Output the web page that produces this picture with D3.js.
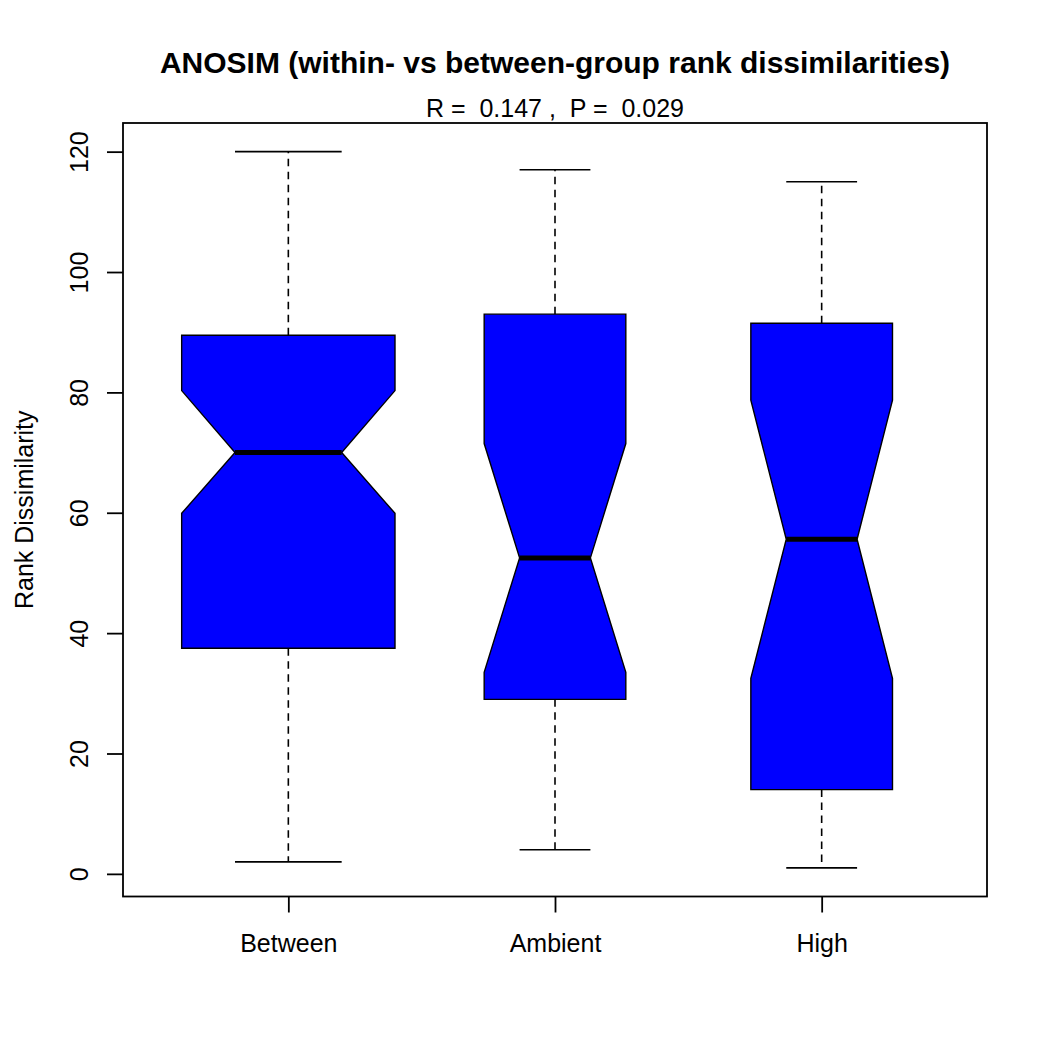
<!DOCTYPE html>
<html>
<head>
<meta charset="utf-8">
<script src="https://cdn.jsdelivr.net/npm/d3@7"></script>
<style>
  html, body { margin: 0; padding: 0; background: #fff; }
  text { font-family: "Liberation Sans", Arial, Helvetica, sans-serif; fill: #000; }
</style>
</head>
<body>
<svg id="chart" width="1050" height="1050"></svg>
<script>
// ---- data ----
const categories = ["Between", "Ambient", "High"];
const whiskerLow  = [2, 4, 1];
const q1          = [37.5, 29.0, 14.0];
const notchLow    = [59.9, 33.5, 32.5];
const medians     = [70.0, 52.5, 55.6];
const notchHigh   = [80.3, 71.5, 78.7];
const q3          = [89.5, 93.0, 91.5];
const whiskerHigh = [120, 117, 115];
const relWidth    = [1, 0.664, 0.664];   // varwidth (sqrt n) relative box widths
const yTicks      = [0, 20, 40, 60, 80, 100, 120];
const titleText = "ANOSIM (within- vs between-group rank dissimilarities)";
const subText   = "R =  0.147 ,  P =  0.029";
const yLabel    = "Rank Dissimilarity";

// ---- layout ----
const svg = d3.select("#chart");
const plot = { left: 123, right: 987, top: 123, bottom: 896.5 };

const x = d3.scaleLinear().domain([0.38, 3.62]).range([plot.left, plot.right]);
const y = d3.scaleLinear().domain([-3.76, 124.76]).range([plot.bottom, plot.top]);

const data = categories.map((c, i) => ({
  c, i: i + 1,
  half: 0.4 * relWidth[i],
  wl: whiskerLow[i], q1: q1[i], nl: notchLow[i], med: medians[i],
  nh: notchHigh[i], q3: q3[i], wh: whiskerHigh[i]
}));

const g = svg.append("g");

// whiskers (dashed)
data.forEach(d => {
  [[d.q3, d.wh], [d.q1, d.wl]].forEach(([a, b]) => {
    g.append("line")
      .attr("x1", x(d.i)).attr("x2", x(d.i))
      .attr("y1", y(a)).attr("y2", y(b))
      .attr("stroke", "#000").attr("stroke-width", 1.6)
      .attr("stroke-dasharray", "7.5,5.5");
  });
  [d.wl, d.wh].forEach(v => {
    g.append("line")
      .attr("x1", x(d.i - d.half / 2)).attr("x2", x(d.i + d.half / 2))
      .attr("y1", y(v)).attr("y2", y(v))
      .attr("stroke", "#000").attr("stroke-width", 1.6);
  });
});

// notched boxes
data.forEach(d => {
  const bh = d.half, nh = d.half / 2;
  const pts = [
    [x(d.i - bh), y(d.q1)],
    [x(d.i - bh), y(d.nl)],
    [x(d.i - nh), y(d.med)],
    [x(d.i - bh), y(d.nh)],
    [x(d.i - bh), y(d.q3)],
    [x(d.i + bh), y(d.q3)],
    [x(d.i + bh), y(d.nh)],
    [x(d.i + nh), y(d.med)],
    [x(d.i + bh), y(d.nl)],
    [x(d.i + bh), y(d.q1)]
  ];
  g.append("path")
    .attr("d", d3.line()(pts) + "Z")
    .attr("fill", "#0000FF")
    .attr("stroke", "#000").attr("stroke-width", 1.4)
    .attr("stroke-linejoin", "miter");
  g.append("line")
    .attr("x1", x(d.i - nh)).attr("x2", x(d.i + nh))
    .attr("y1", y(d.med)).attr("y2", y(d.med))
    .attr("stroke", "#000").attr("stroke-width", 5);
});

// frame
svg.append("rect")
  .attr("x", plot.left).attr("y", plot.top)
  .attr("width", plot.right - plot.left).attr("height", plot.bottom - plot.top)
  .attr("fill", "none").attr("stroke", "#000").attr("stroke-width", 1.8);

// y axis
const yAxis = d3.axisLeft(y).tickValues(yTicks).tickSize(16).tickPadding(0).tickSizeOuter(0);
const ya = svg.append("g").attr("transform", `translate(${plot.left},0)`).call(yAxis);
ya.select(".domain").remove();
ya.selectAll(".tick line").attr("stroke", "#000").attr("stroke-width", 1.8);
ya.selectAll(".tick text")
  .attr("x", null).attr("dy", null)
  .attr("text-anchor", "middle")
  .attr("transform", "translate(-35,0) rotate(-90)")
  .attr("font-size", 25)
  .attr("font-family", "Liberation Sans, Arial, sans-serif");

// x axis
const xAxis = d3.axisBottom(x).tickValues([1, 2, 3]).tickFormat((d) => categories[d - 1])
  .tickSize(16).tickPadding(0).tickSizeOuter(0);
const xa = svg.append("g").attr("transform", `translate(0,${plot.bottom})`).call(xAxis);
xa.select(".domain").remove();
xa.selectAll(".tick line").attr("stroke", "#000").attr("stroke-width", 1.8);
xa.selectAll(".tick text")
  .attr("y", 55).attr("dy", null)
  .attr("font-size", 25)
  .attr("font-family", "Liberation Sans, Arial, sans-serif");

// titles
svg.append("text")
  .attr("x", (plot.left + plot.right) / 2).attr("y", 72.5)
  .attr("text-anchor", "middle")
  .attr("font-size", 30).attr("font-weight", "bold")
  .text(titleText);
svg.append("text")
  .attr("x", (plot.left + plot.right) / 2).attr("y", 117)
  .attr("text-anchor", "middle")
  .attr("font-size", 25)
  .style("white-space", "pre")
  .text(subText);
svg.append("text")
  .attr("transform", `translate(33,${(plot.top + plot.bottom) / 2}) rotate(-90)`)
  .attr("text-anchor", "middle")
  .attr("font-size", 25)
  .text(yLabel);
</script>
</body>
</html>
